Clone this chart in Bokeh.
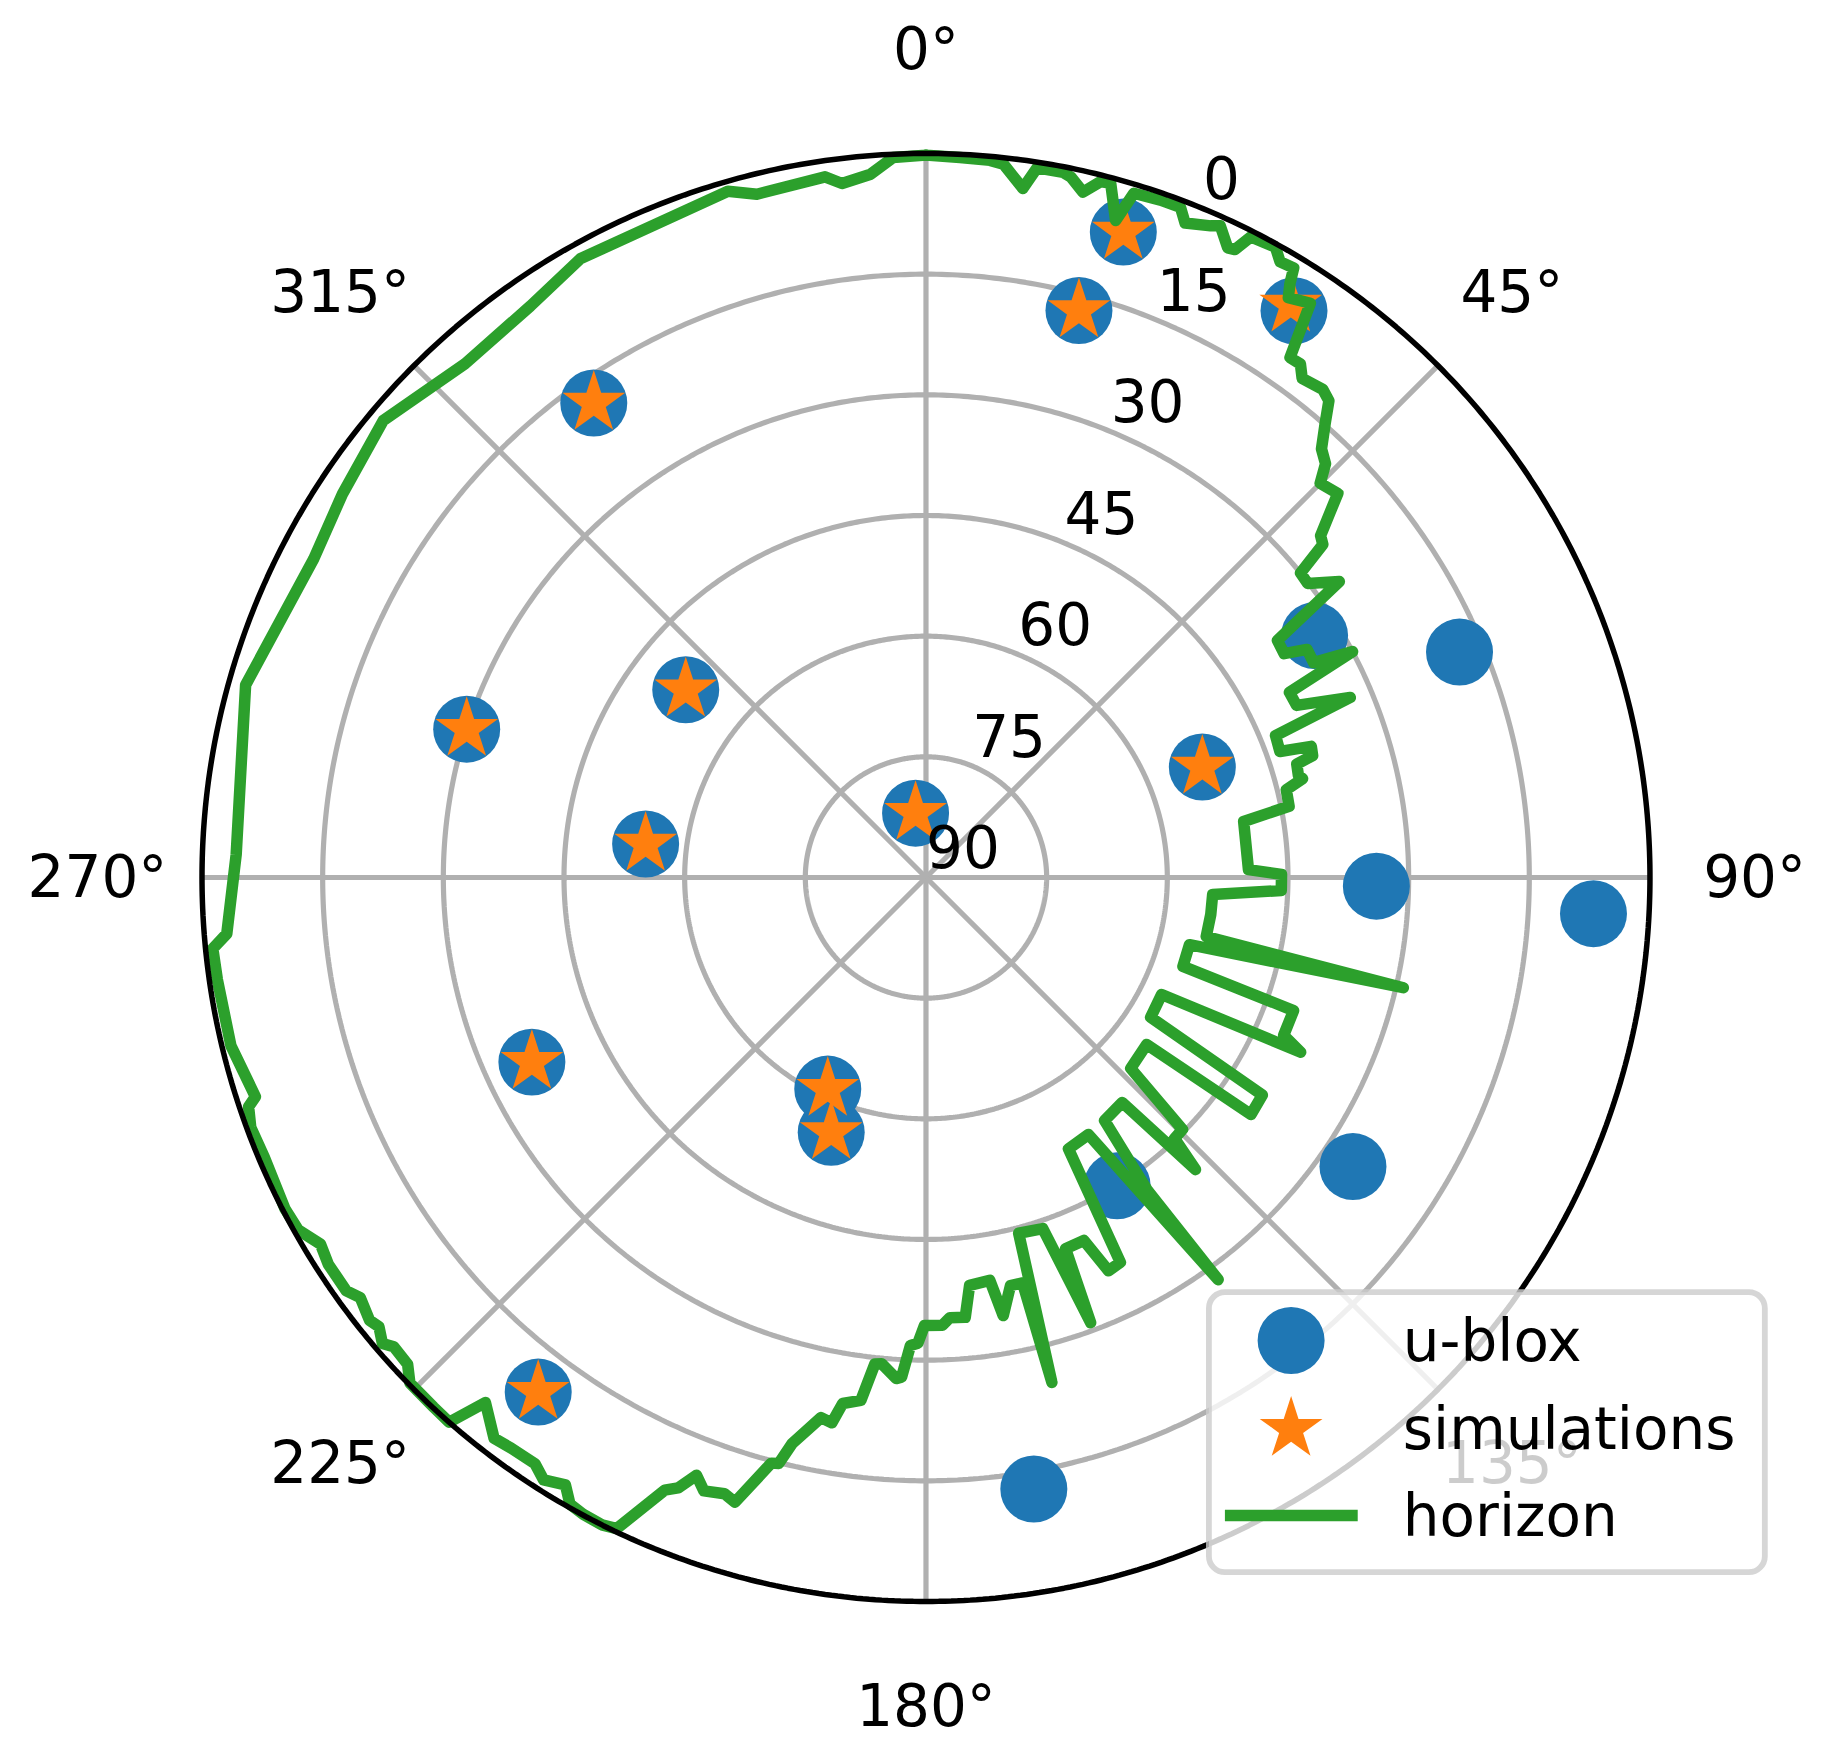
import numpy as np
from bokeh.plotting import figure
from bokeh.models import Range1d
from bokeh.core.properties import value
from bokeh.embed import file_html
from bokeh.resources import INLINE

# ---------------- data ----------------
horizon_az = [0.0, 2.7, 5.1, 6.2, 8.0, 8.9, 11.0, 11.7,
              12.9, 14.1, 14.9, 16.1, 16.9, 19.1, 20.8, 21.6,
              23.6, 24.3, 25.6, 26.2, 26.9, 29.0, 29.9, 31.1,
              31.5, 32.0, 33.8, 35.0, 36.1, 37.0, 39.1, 40.2,
              41.3, 42.7, 44.0, 45.0, 47.0, 47.9, 49.1, 50.0,
              50.9, 52.4, 54.4, 56.0, 58.0, 59.1, 61.0, 62.1,
              63.0, 65.1, 67.0, 67.9, 70.4, 71.2, 72.5, 73.0,
              74.7, 75.3, 76.3, 78.9, 80.0, 88.6, 89.5, 92.1,
              93.4, 97.4, 101.9, 103.0, 104.3, 109.1, 109.9, 113.8,
              115.0, 116.4, 121.9, 122.9, 126.1, 127.1, 133.0, 134.5,
              136.4, 137.3, 138.9, 143.7, 144.7, 144.0, 147.7, 152.3,
              153.2, 155.1, 156.5, 159.4, 159.7, 161.6, 165.4, 166.0,
              166.6, 168.3, 170.0, 171.0, 173.9, 174.9, 176.9, 177.9,
              180.2, 181.0, 181.9, 182.8, 183.4, 185.2, 186.0, 187.1,
              189.0, 189.8, 191.0, 193.3, 194.1, 194.8, 197.0, 198.1,
              199.9, 201.0, 202.1, 203.1, 205.4, 206.6, 208.3, 209.6,
              210.7, 212.4, 213.7, 216.0, 217.6, 220.0, 221.2, 222.9,
              225.6, 226.8, 228.6, 229.4, 230.6, 231.5, 233.4, 234.5,
              237.1, 238.8, 240.7, 242.7, 247.1, 249.7, 251.3, 251.9,
              256.4, 261.8, 264.3, 265.4, 271.9, 285.8, 297.5, 303.3,
              310.1, 318.1, 325.3, 330.8, 343.9, 346.1, 351.8, 353.1,
              355.5, 357.4, 360.0]
horizon_el = [0.2, 0.4, 0.5, 0.8, 3.5, 0.7, 0.7, 1.1,
              2.6, 0.8, 0.7, 5.0, 1.1, 0.9, 0.9, 2.5,
              1.6, 1.1, 3.2, 3.0, 0.7, 0.4, 1.7, 1.5,
              3.4, 5.0, 4.1, 11.1, 11.0, 12.3, 11.8, 12.4,
              14.8, 17.5, 18.5, 20.7, 20.0, 22.3, 25.1, 25.6,
              30.0, 30.1, 26.8, 37.3, 37.5, 34.8, 34.9, 30.0,
              39.3, 39.2, 32.7, 43.1, 43.3, 39.4, 39.6, 41.8,
              42.0, 41.6, 43.9, 44.0, 49.9, 49.9, 45.8, 45.8,
              54.3, 54.3, 54.4, 29.1, 56.2, 56.2, 41.4, 41.4,
              38.6, 57.3, 57.1, 40.2, 40.0, 55.6, 55.2, 45.3,
              45.2, 40.6, 52.9, 52.5, 42.3, 28.2, 52.2, 51.9,
              36.4, 36.1, 40.8, 40.7, 31.0, 44.0, 44.3, 25.3,
              38.2, 38.2, 34.7, 39.3, 39.0, 35.1, 35.2, 34.3,
              34.3, 32.1, 31.8, 27.8, 27.6, 29.3, 29.2, 24.5,
              23.8, 21.2, 21.6, 17.7, 14.9, 14.7, 8.8, 9.4,
              8.9, 10.4, 8.1, 7.2, 0.4, 0.0, 0.1, 0.4,
              2.2, 1.3, 2.4, 2.3, 2.0, 4.8, 0.0, 0.1,
              0.2, 1.6, 1.8, 1.0, 2.0, 1.6, 2.4, 1.5,
              1.5, 2.0, 0.5, 0.3, 0.7, 0.5, 1.1, 2.3,
              1.1, 1.0, 0.9, 2.8, 4.2, 2.1, 4.2, 3.2,
              1.8, 4.2, 3.6, 1.9, 1.2, 2.5, 2.0, 3.1,
              2.3, 0.4, 0.2]

ublox_az = [17.0, 15.1, 33.0, 325.0, 58.1, 67.1, 308.0, 287.9, 68.2, 350.8,
            276.8, 91.1, 93.1, 244.9, 204.9, 200.4, 124.1, 148.2, 217.0, 170.0]
ublox_el = [6.1, 17.0, 6.0, 18.0, 33.1, 18.0, 52.1, 30.0, 53.0, 81.9,
            54.9, 34.0, 6.9, 35.9, 61.0, 56.2, 25.9, 44.9, 9.9, 12.8]

sim_az = [17.0, 15.1, 32.5, 325.0, 308.0, 287.9, 68.2, 350.8, 276.8, 244.9,
          204.9, 200.4, 217.0]
sim_el = [6.1, 17.0, 5.6, 18.0, 52.1, 30.0, 53.0, 81.9, 54.9, 35.9,
          61.0, 56.2, 9.9]

ring_elevations = [75, 60, 45, 30, 15]
r_tick_values = [0, 15, 30, 45, 60, 75, 90]
r_tick_labels = ["0", "15", "30", "45", "60", "75", "90"]
theta_ticks = [0, 45, 90, 135, 180, 225, 270, 315]
theta_labels = ["0°", "45°", "90°", "135°", "180°", "225°", "270°", "315°"]
legend_labels = ["u-blox", "simulations", "horizon"]

BLUE, ORANGE, GREEN = "#1f77b4", "#ff7f0e", "#2ca02c"
GRID = "#b0b0b0"
FONT = value("DejaVu Sans")
FS = "58px"


def to_xy(az, el):
    a = np.radians(np.asarray(az, dtype=float))
    r = 90.0 - np.asarray(el, dtype=float)
    return r * np.sin(a), r * np.cos(a)


p = figure(width=1820, height=1758,
           x_range=Range1d(-115.05, 111.20), y_range=Range1d(-109.52, 109.02),
           output_backend="svg", toolbar_location=None,
           x_axis_location=None, y_axis_location=None, min_border=0)
p.grid.visible = False
p.outline_line_color = None
p.background_fill_color = "white"

# grid rings
t = np.linspace(0, 2 * np.pi, 721)
ring_xs = [list((90 - e) * np.sin(t)) for e in ring_elevations]
ring_ys = [list((90 - e) * np.cos(t)) for e in ring_elevations]
p.multi_line(ring_xs, ring_ys, line_color=GRID, line_width=5.2)
# radial grid lines
sx = [[0, 90 * np.sin(np.radians(a))] for a in theta_ticks]
sy = [[0, 90 * np.cos(np.radians(a))] for a in theta_ticks]
p.multi_line(sx, sy, line_color=GRID, line_width=5.2)

# data
ux, uy = to_xy(ublox_az, ublox_el)
p.scatter(ux, uy, size=67, marker="circle", fill_color=BLUE, line_color=None)
sx2, sy2 = to_xy(sim_az, sim_el)
p.scatter(sx2, sy2, size=66, marker="star", fill_color=ORANGE, line_color=None)
hx, hy = to_xy(horizon_az, horizon_el)
p.line(hx, hy, line_color=GREEN, line_width=11.5, line_join="round", line_cap="round")

# outer spine
p.line(90 * np.sin(t), 90 * np.cos(t), line_color="black", line_width=5.5)

# angular tick labels
tx, ty = to_xy(theta_ticks, [90 - 103] * len(theta_ticks))
p.text(tx, ty, text=theta_labels, text_font=FONT, text_font_size=FS,
       text_align="center", text_baseline="middle", text_color="black")

# radial tick labels
rx, ry = to_xy([22.5] * len(r_tick_values), r_tick_values)
p.text(rx, ry, text=r_tick_labels, text_font=FONT, text_font_size=FS,
       text_align="left", text_baseline="middle", y_offset=-31, text_color="black")

# legend (semi-transparent frame, as in the reference)
try:
    p.quad(left=35.17, right=104.28, top=-51.55, bottom=-86.36,
           fill_color="white", fill_alpha=0.8, line_color="#cccccc", line_alpha=0.8,
           line_width=5.8, border_radius=16)
except Exception:
    p.quad(left=35.17, right=104.28, top=-51.55, bottom=-86.36,
           fill_color="white", fill_alpha=0.8, line_color="#cccccc", line_alpha=0.8,
           line_width=5.8)
p.scatter([45.39], [-57.56], size=67, marker="circle", fill_color=BLUE, line_color=None)
p.scatter([45.39], [-68.57], size=66, marker="star", fill_color=ORANGE, line_color=None)
p.line([37.16, 53.67], [-79.31, -79.31], line_color=GREEN, line_width=11.5)
p.text([59.28, 59.28, 59.28], [-57.63, -68.53, -79.43], text=legend_labels,
       text_font=FONT, text_font_size=FS, text_align="left", text_baseline="middle",
       text_color="black")

open("out.html", "w").write(file_html(p, INLINE))
